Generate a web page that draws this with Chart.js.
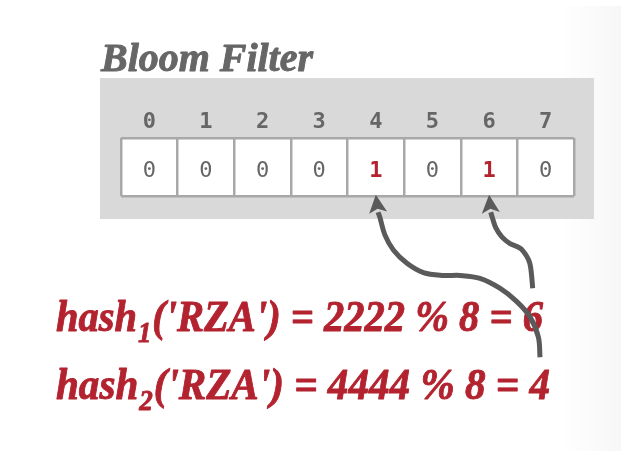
<!DOCTYPE html>
<html><head><meta charset="utf-8">
<script src="https://cdn.jsdelivr.net/npm/chart.js@4/dist/chart.umd.min.js"></script>
<style>html,body{margin:0;padding:0;background:#fff;overflow:hidden}#wrap{width:626px;height:451px}</style>
</head><body>
<div id="wrap"><canvas id="c" width="626" height="451"></canvas></div>
<script>
// ---- data ----
const titleText = 'Bloom Filter';
const slotLabels = ['0', '1', '2', '3', '4', '5', '6', '7'];
const bitValues = [0, 0, 0, 0, 1, 0, 1, 0];
const hashNames = ['hash', 'hash'];
const hashSubscripts = ['1', '2'];
const hashKeys = ['RZA', 'RZA'];
const hashRaw = [2222, 4444];
const filterSize = 8;
const hashResults = [6, 4];
// arrow paths in slot units (x: slot index, y: 0 = bottom of cells, 1 = top), tail -> arrowhead base
const arrowFromHash1 = [
  [6.77, -1.59], [6.75, -1.36], [6.72, -1.16], [6.66, -1.03], [6.55, -0.90],
  [6.37, -0.82], [6.23, -0.71], [6.12, -0.55], [6.06, -0.38], [6.03, -0.28]
];
const arrowFromHash2 = [
  [6.90, -2.78], [6.87, -2.43], [6.72, -2.08], [6.49, -1.82], [6.19, -1.59],
  [5.84, -1.42], [5.49, -1.37], [5.19, -1.37], [4.84, -1.32], [4.55, -1.16],
  [4.31, -0.93], [4.16, -0.67], [4.07, -0.36], [4.04, -0.28]
];
const arrowPaths = [arrowFromHash1, arrowFromHash2];

// ---- styles ----
const GRAY_TEXT = '#666666';
const RED = '#b3232f';
const ARROW = '#5a5a5a';
const CELL_LINE = '#a8a8a8';
const PANEL = '#d9d9d9';
const MONO = '"DejaVu Sans Mono", monospace';
const SERIF = '"Liberation Serif", serif';

const deco = {
  id: 'deco',
  beforeDraw(chart) {
    const { ctx, chartArea: a } = chart;
    ctx.save();
    const g = ctx.createLinearGradient(560, 0, 621, 0);
    g.addColorStop(0, 'rgba(0,0,0,0)');
    g.addColorStop(1, 'rgba(0,0,0,0.03)');
    ctx.fillStyle = g;
    ctx.fillRect(560, 6, 61, 445);
    ctx.fillStyle = PANEL;
    const pl = a.left - 21, pt = a.top - 60, pr = a.right + 20, pb = a.bottom + 23;
    ctx.fillRect(pl, pt, pr - pl, pb - pt);
    // title
    ctx.font = 'italic bold 40px ' + SERIF;
    ctx.fillStyle = GRAY_TEXT;
    ctx.strokeStyle = GRAY_TEXT;
    ctx.lineWidth = 0.9;
    ctx.lineJoin = 'round';
    ctx.textBaseline = 'alphabetic';
    const tw = ctx.measureText(titleText).width;
    const tsx = 212 / tw;
    ctx.translate(pl + 1, pt - 7);
    ctx.scale(tsx, 1);
    ctx.fillText(titleText, 0, 0);
    ctx.strokeText(titleText, 0, 0);
    ctx.restore();
  },
  beforeDatasetsDraw(chart) {
    const { ctx } = chart;
    ctx.save();
    ctx.fillStyle = RED;
    ctx.strokeStyle = RED;
    ctx.lineWidth = 0.9;
    ctx.lineJoin = 'round';
    ctx.textBaseline = 'alphabetic';
    const big = 'italic bold 44px ' + SERIF;
    const small = 'italic bold 29px ' + SERIF;
    const parts = hashNames.map((n, i) => ({
      name: n, sub: hashSubscripts[i],
      rest: "('" + hashKeys[i] + "') = " + hashRaw[i] + ' % ' + filterSize + ' = ' + hashResults[i]
    }));
    const widthOf = p => {
      ctx.font = big; const w1 = ctx.measureText(p.name).width; const w3 = ctx.measureText(p.rest).width;
      ctx.font = small; const w2 = ctx.measureText(p.sub).width;
      return w1 + w2 + 2 + w3;
    };
    const targetWidths = [487, 494];
    const baselines = [331, 399];
    const put = (t, x, y) => { ctx.fillText(t, x, y); ctx.strokeText(t, x, y); };
    parts.forEach((p, i) => {
      const sx = targetWidths[i] / widthOf(p);
      ctx.save();
      ctx.translate(56, baselines[i]);
      ctx.scale(sx, 1);
      let x = 0;
      ctx.font = big; put(p.name, x, 0); x += ctx.measureText(p.name).width + 1;
      ctx.font = small; put(p.sub, x, 11); x += ctx.measureText(p.sub).width + 1;
      ctx.font = big; put(p.rest, x, 0);
      ctx.restore();
    });
    ctx.restore();
  },
  afterDraw(chart) {
    const { ctx } = chart;
    const xs = chart.scales.xa, ys = chart.scales.y;
    ctx.save();
    // cell values
    ctx.textAlign = 'center';
    ctx.textBaseline = 'middle';
    bitValues.forEach((v, i) => {
      ctx.font = (v ? 'bold ' : '') + '22px ' + MONO;
      ctx.fillStyle = v ? RED : GRAY_TEXT;
      ctx.fillText(String(v), xs.getPixelForValue(i), ys.getPixelForValue(0.45) + 1);
    });
    // arrowheads
    ctx.fillStyle = ARROW;
    arrowPaths.forEach((path, k) => {
      const base = path[path.length - 1];
      const bx = xs.getPixelForValue(base[0]), by = ys.getPixelForValue(base[1]);
      const tx = xs.getPixelForValue(hashResults[k]), ty = ys.getPixelForValue(0.02);
      const dx = tx - bx, dy = ty - by, L = Math.hypot(dx, dy);
      const ux = dx / L, uy = dy / L, nx = -uy, ny = ux;
      const len = 18, hw = 9;
      const b0x = tx - ux * len, b0y = ty - uy * len;
      ctx.beginPath();
      ctx.moveTo(tx, ty);
      ctx.lineTo(b0x + nx * hw, b0y + ny * hw);
      ctx.lineTo(tx - ux * (len - 4), ty - uy * (len - 4));
      ctx.lineTo(b0x - nx * hw, b0y - ny * hw);
      ctx.closePath();
      ctx.fill();
    });
    ctx.restore();
  }
};

const arrowDatasets = arrowPaths.map(p => ({
  type: 'line',
  data: p.map(([x, y]) => ({ x, y })),
  xAxisID: 'xa', yAxisID: 'y',
  borderColor: ARROW, borderWidth: 5, tension: 0.35,
  pointRadius: 0, fill: false, clip: false, borderCapStyle: 'butt'
}));

new Chart(document.getElementById('c'), {
  type: 'bar',
  data: {
    labels: slotLabels,
    datasets: [{
      type: 'bar',
      data: slotLabels.map(() => 1),
      backgroundColor: '#ffffff', borderWidth: 0, grouped: false,
      barPercentage: 1, categoryPercentage: 1, xAxisID: 'x', yAxisID: 'y'
    }, ...arrowDatasets]
  },
  options: {
    responsive: false, animation: false, devicePixelRatio: 1,
    layout: { padding: { left: 121, right: 52, top: 98, bottom: 255 } },
    plugins: { legend: { display: false }, tooltip: { enabled: false }, title: { display: false } },
    scales: {
      x: {
        type: 'category', position: 'top', offset: true,
        grid: { offset: true, color: CELL_LINE, lineWidth: 2.5, drawTicks: false, z: 1 },
        border: { display: false },
        ticks: { color: GRAY_TEXT, padding: 3, font: { family: MONO, weight: 'bold', size: 22 } },
        afterFit: s => { s.height = 40; }
      },
      xa: { type: 'linear', min: -0.5, max: 7.5, display: false, offset: false, grid: { offset: false } },
      y: {
        type: 'linear', min: 0, max: 1, position: 'left',
        ticks: { display: false, stepSize: 1 },
        grid: { color: CELL_LINE, lineWidth: 2.5, drawTicks: false, z: 1 },
        border: { display: false },
        afterFit: s => { s.width = 0; }
      }
    }
  },
  plugins: [deco]
});
</script>
</body></html>
